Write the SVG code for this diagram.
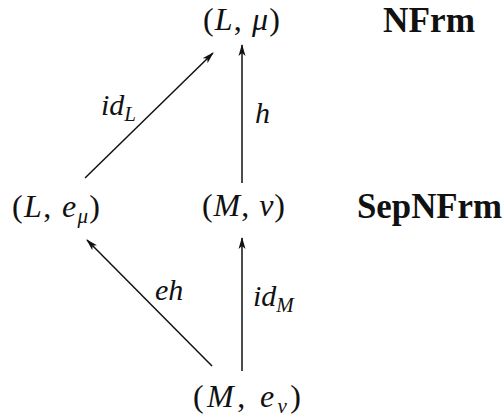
<svg xmlns="http://www.w3.org/2000/svg" width="504" height="417" viewBox="0 0 504 417">
<style>
.t{fill:#111;font-size:32px}
.i{font-style:italic}
.b{font-weight:bold;font-size:35px}
.s{font-size:21px;font-style:italic}
.lbl{font-size:30px;font-style:italic}
.c line{stroke:#111;stroke-width:1.5;marker-end:url(#ah)}
</style>
<defs>
<marker id="ah" viewBox="0 0 12 8" refX="11" refY="4" markerWidth="12" markerHeight="8" markerUnits="userSpaceOnUse" orient="auto">
<path d="M0,0.5 L12,4 L0,7.5 L3,4 Z" fill="#111"/>
</marker>
</defs>
<rect width="504" height="417" fill="#fff"/>
<g font-family="Liberation Serif, serif">
<g id="Lmu"><text class="t" x="203" y="30" textLength="77" lengthAdjust="spacing">(<tspan class="i">L</tspan>, <tspan class="i">μ</tspan>)</text></g>
<g id="NFrm"><text class="t b" x="383" y="32" textLength="92" lengthAdjust="spacingAndGlyphs">NFrm</text></g>
<g id="Lemu"><text class="t" x="12" y="217" textLength="88" lengthAdjust="spacing">(<tspan class="i">L</tspan>, <tspan class="i">e</tspan><tspan class="s" dy="6">μ</tspan><tspan dy="-6">)</tspan></text></g>
<g id="Mnu"><text class="t" x="202" y="216" textLength="83" lengthAdjust="spacing">(<tspan class="i">M</tspan>, <tspan class="i">ν</tspan>)</text></g>
<g id="SepNFrm"><text class="t b" x="357" y="218" textLength="145" lengthAdjust="spacingAndGlyphs">SepNFrm</text></g>
<g id="Menu"><text class="t" x="193" y="407" textLength="108" lengthAdjust="spacing">(<tspan class="i">M</tspan>, <tspan class="i">e</tspan><tspan class="s" dy="6">ν</tspan><tspan dy="-6">)</tspan></text></g>
<g class="c" id="connectors">
<line x1="85" y1="178" x2="213" y2="53"/>
<line x1="242" y1="183" x2="242" y2="45"/>
<line x1="212" y1="366" x2="87" y2="240"/>
<line x1="242" y1="371" x2="242" y2="238"/>
</g>
<g id="labels">
<text class="t lbl" x="101" y="115">id<tspan class="s" dy="6">L</tspan></text>
<text class="t lbl" x="255" y="123">h</text>
<text class="t lbl" x="155" y="300">eh</text>
<text class="t lbl" x="253" y="306">id<tspan class="s" dy="6">M</tspan></text>
</g>
</g>
</svg>
